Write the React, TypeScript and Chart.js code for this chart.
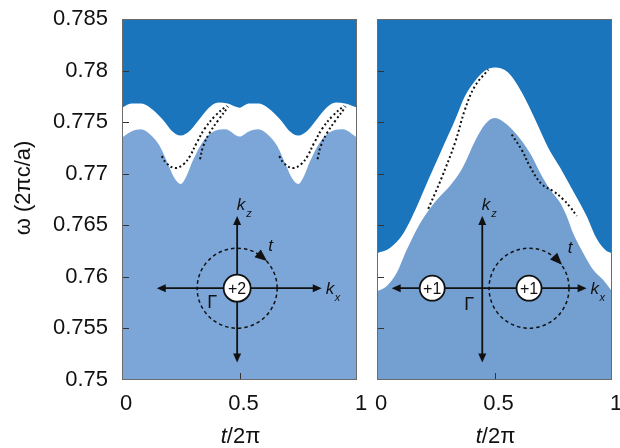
import React, { useEffect, useRef } from 'react';
import { Chart, registerables } from 'chart.js';
Chart.register(...registerables);

const FONT = "'Liberation Sans', Arial, sans-serif";
const DARK = '#1B75BC';
const LIGHT_L = '#7CA6D8';
const LIGHT_R = '#739FD1';

const X_TICKS = [0, 0.5, 1];
const Y_TICKS = [0.75, 0.755, 0.76, 0.765, 0.77, 0.775, 0.78, 0.785];

// Left panel (+2)
const L_UPPER_T = [0, 0.04, 0.08, 0.12, 0.175, 0.21, 0.25, 0.29, 0.33, 0.37, 0.41, 0.45, 0.5, 0.54, 0.58, 0.62, 0.675, 0.71, 0.75, 0.79, 0.83, 0.87, 0.91, 0.95, 1];
const L_UPPER_W = [0.7764, 0.7768, 0.7768, 0.7764, 0.7752, 0.7742, 0.7737, 0.7742, 0.7753, 0.7764, 0.7769, 0.7768, 0.7764, 0.7768, 0.7768, 0.7764, 0.7752, 0.7742, 0.7737, 0.7742, 0.7753, 0.7764, 0.7769, 0.7768, 0.7764];
const L_LOWER_T = [0, 0.04, 0.08, 0.12, 0.16, 0.2, 0.225, 0.25, 0.275, 0.3, 0.35, 0.4, 0.44, 0.5, 0.54, 0.58, 0.62, 0.66, 0.7, 0.725, 0.75, 0.775, 0.8, 0.85, 0.9, 0.94, 1];
const L_LOWER_W = [0.7735, 0.7741, 0.7743, 0.7738, 0.7727, 0.7707, 0.7695, 0.769, 0.7698, 0.7712, 0.7733, 0.7742, 0.7743, 0.7736, 0.7741, 0.7743, 0.7738, 0.7727, 0.7707, 0.7695, 0.769, 0.7698, 0.7712, 0.7733, 0.7742, 0.7743, 0.7735];
const L_DOT_A1_T = [0.169, 0.19, 0.226, 0.261, 0.289, 0.318, 0.353, 0.396, 0.446];
const L_DOT_A1_W = [0.7717, 0.771, 0.77055, 0.7709, 0.7717, 0.773, 0.7744, 0.7756, 0.7766];
const L_DOT_B1_T = [0.332, 0.346, 0.374, 0.41, 0.452];
const L_DOT_B1_W = [0.7714, 0.7727, 0.774, 0.7752, 0.7765];
const L_DOT_A2_T = [0.669, 0.69, 0.726, 0.761, 0.789, 0.818, 0.853, 0.896, 0.946];
const L_DOT_A2_W = [0.7717, 0.771, 0.77055, 0.7709, 0.7717, 0.773, 0.7744, 0.7756, 0.7766];
const L_DOT_B2_T = [0.832, 0.846, 0.874, 0.91, 0.952];
const L_DOT_B2_W = [0.7714, 0.7727, 0.774, 0.7752, 0.7765];

// Right panel (+1, +1)
const R_UPPER_T = [0, 0.055, 0.112, 0.169, 0.218, 0.275, 0.332, 0.374, 0.417, 0.46, 0.5, 0.559, 0.616, 0.672, 0.729, 0.779, 0.835, 0.892, 0.935, 0.977, 1];
const R_UPPER_W = [0.7623, 0.7628, 0.7642, 0.7668, 0.7694, 0.7723, 0.7752, 0.7775, 0.779, 0.78, 0.7803, 0.7798, 0.7779, 0.7753, 0.7725, 0.7706, 0.7683, 0.7659, 0.7637, 0.7625, 0.7623];
const R_LOWER_T = [0, 0.041, 0.084, 0.126, 0.169, 0.218, 0.26, 0.31, 0.36, 0.42, 0.46, 0.5, 0.54, 0.587, 0.651, 0.694, 0.736, 0.779, 0.807, 0.835, 0.878, 0.92, 0.963, 1];
const R_LOWER_W = [0.7586, 0.7591, 0.7604, 0.7626, 0.7646, 0.7664, 0.7676, 0.7688, 0.7704, 0.7733, 0.7748, 0.7754, 0.775, 0.774, 0.772, 0.7701, 0.7685, 0.7672, 0.7659, 0.7642, 0.7623, 0.7607, 0.7597, 0.7586];
const R_DOT_1_T = [0.218, 0.247, 0.275, 0.332, 0.374, 0.417, 0.474];
const R_DOT_1_W = [0.7666, 0.7681, 0.7696, 0.773, 0.7762, 0.7785, 0.7801];
const R_DOT_2_T = [0.573, 0.616, 0.651, 0.7, 0.75, 0.793, 0.821, 0.85];
const R_DOT_2_W = [0.7738, 0.7723, 0.7707, 0.769, 0.7683, 0.7675, 0.7668, 0.7659];

// Inset sketch (k-space diagram) anchors, in data units
const LEFT_SKETCH = {
  axisX: 0.49, axisY: 0.7589, hFrom: 0.148, hTo: 0.85, vTop: 0.7659, vBot: 0.7517,
  charges: [{ x: 0.49, label: '+2', r: 13.5 }],
  loopX: 0.49, loopR: 40, arrowDeg: -51, tDx: 31, tDy: -37, gDx: -30, gDy: 19.6,
};
const RIGHT_SKETCH = {
  axisX: 0.448, axisY: 0.7589, hFrom: 0.0625, hTo: 0.892, vTop: 0.7659, vBot: 0.7517,
  charges: [{ x: 0.235, label: '+1', r: 12.5 }, { x: 0.647, label: '+1', r: 12.5 }],
  loopX: 0.647, loopR: 40, arrowDeg: -44, tDx: 38.7, tDy: -35.4, gDx: -18, gDy: 21.3,
};

const pts = (t: number[], w: number[]) => t.map((v, i) => ({ x: v, y: w[i] }));

function fillSet(t: number[], w: number[], color: string, fill: string) {
  return {
    data: pts(t, w), borderWidth: 0, borderColor: color, backgroundColor: color,
    fill, pointRadius: 0, tension: 0.4, cubicInterpolationMode: 'monotone',
  };
}
function dotSet(t: number[], w: number[]) {
  return {
    data: pts(t, w), borderWidth: 2, borderColor: '#111', borderDash: [2, 2.6],
    fill: false, pointRadius: 0, tension: 0.4, borderCapStyle: 'butt',
  };
}

function head(ctx: CanvasRenderingContext2D, tx: number, ty: number, dx: number, dy: number, len = 9, hw = 4) {
  const bx = tx - dx * len, by = ty - dy * len;
  ctx.beginPath();
  ctx.moveTo(tx, ty);
  ctx.lineTo(bx - dy * hw, by + dx * hw);
  ctx.lineTo(bx + dy * hw, by - dx * hw);
  ctx.closePath();
  ctx.fill();
}

function drawSketch(chart: any, s: any) {
  const { ctx, scales: { x, y } } = chart;
  const ax = x.getPixelForValue(s.axisX), ay = y.getPixelForValue(s.axisY);
  const h0 = x.getPixelForValue(s.hFrom), h1 = x.getPixelForValue(s.hTo);
  const v0 = y.getPixelForValue(s.vTop), v1 = y.getPixelForValue(s.vBot);
  const lx = x.getPixelForValue(s.loopX);
  ctx.save();
  ctx.strokeStyle = '#111'; ctx.fillStyle = '#111'; ctx.lineWidth = 1.8;
  ctx.beginPath(); ctx.moveTo(h0 + 4, ay); ctx.lineTo(h1 - 4, ay); ctx.stroke();
  ctx.beginPath(); ctx.moveTo(ax, v0 + 4); ctx.lineTo(ax, v1 - 4); ctx.stroke();
  head(ctx, h0, ay, -1, 0); head(ctx, h1, ay, 1, 0);
  head(ctx, ax, v0, 0, -1); head(ctx, ax, v1, 0, 1);
  ctx.lineWidth = 1.5; ctx.setLineDash([3.5, 3]);
  ctx.beginPath(); ctx.arc(lx, ay, s.loopR, 0, Math.PI * 2); ctx.stroke();
  ctx.setLineDash([]);
  const th = s.arrowDeg * Math.PI / 180;
  const px = lx + s.loopR * Math.cos(th), py = ay + s.loopR * Math.sin(th);
  const dx = -Math.sin(th), dy = Math.cos(th);
  head(ctx, px + dx * 6, py + dy * 6, dx, dy, 12, 5);
  s.charges.forEach((c: any) => {
    const cx = x.getPixelForValue(c.x);
    ctx.beginPath(); ctx.arc(cx, ay, c.r, 0, Math.PI * 2);
    ctx.fillStyle = '#fff'; ctx.fill();
    ctx.lineWidth = 1.8; ctx.strokeStyle = '#111'; ctx.stroke();
    ctx.fillStyle = '#111'; ctx.font = `16px ${FONT}`;
    ctx.textAlign = 'center'; ctx.textBaseline = 'middle';
    ctx.fillText(c.label, cx, ay + 1);
  });
  ctx.textAlign = 'left'; ctx.textBaseline = 'alphabetic'; ctx.fillStyle = '#111';
  ctx.font = `italic 17px ${FONT}`;
  ctx.fillText('k', ax - 0.5, v0 - 6.5);
  ctx.fillText('k', h1 + 4, ay + 5.5);
  ctx.fillText('t', lx + s.tDx, ay + s.tDy);
  ctx.font = `italic 11px ${FONT}`;
  ctx.fillText('z', ax + 9, v0 + 0.5);
  ctx.fillText('x', h1 + 13, ay + 12.5);
  ctx.font = `18px ${FONT}`;
  ctx.fillText('Γ', ax + s.gDx, ay + s.gDy);
  ctx.restore();
}

function decoPlugin(sketch: any, showYTitle: boolean) {
  return {
    id: 'deco',
    afterDatasetsDraw(chart: any) {
      const { ctx, chartArea: a, scales: { x, y } } = chart;
      ctx.save();
      ctx.strokeStyle = '#333'; ctx.lineWidth = 1;
      Y_TICKS.slice(1, -1).forEach((v) => {
        const py = Math.round(y.getPixelForValue(v)) + 0.5;
        ctx.beginPath(); ctx.moveTo(a.left, py); ctx.lineTo(a.left + 7, py); ctx.stroke();
      });
      X_TICKS.slice(1, -1).forEach((v) => {
        const px = Math.round(x.getPixelForValue(v)) + 0.5;
        ctx.beginPath(); ctx.moveTo(px, a.bottom); ctx.lineTo(px, a.bottom - 7); ctx.stroke();
      });
      ctx.strokeStyle = '#6b6b6b';
      ctx.strokeRect(a.left + 0.5, a.top + 0.5, a.right - a.left - 1, a.bottom - a.top - 1);
      ctx.restore();
      drawSketch(chart, sketch);
    },
    afterDraw(chart: any) {
      const { ctx, chartArea: a } = chart;
      ctx.save();
      ctx.fillStyle = '#111';
      ctx.font = `italic 22px ${FONT}`;
      const w1 = ctx.measureText('t').width;
      ctx.font = `22px ${FONT}`;
      const w2 = ctx.measureText('/2π').width;
      const cx = (a.left + a.right) / 2 + 1;
      const sx = cx - (w1 + w2) / 2;
      ctx.textBaseline = 'alphabetic'; ctx.textAlign = 'left';
      ctx.font = `italic 22px ${FONT}`;
      ctx.fillText('t', sx, 443);
      ctx.font = `22px ${FONT}`;
      ctx.fillText('/2π', sx + w1, 443);
      if (showYTitle) {
        ctx.translate(24, 188);
        ctx.rotate(-Math.PI / 2);
        ctx.textAlign = 'center'; ctx.textBaseline = 'middle';
        ctx.fillText('ω (2πc/a)', 0, 0);
      }
      ctx.restore();
    },
  };
}

const noPad = (s: any) => { s.paddingLeft = 0; s.paddingRight = 0; s.paddingTop = 0; s.paddingBottom = 0; };

function makeConfig(left: boolean) {
  const datasets = left
    ? [
        dotSet(L_DOT_A1_T, L_DOT_A1_W), dotSet(L_DOT_B1_T, L_DOT_B1_W),
        dotSet(L_DOT_A2_T, L_DOT_A2_W), dotSet(L_DOT_B2_T, L_DOT_B2_W),
        fillSet(L_UPPER_T, L_UPPER_W, DARK, 'end'),
        fillSet(L_LOWER_T, L_LOWER_W, LIGHT_L, 'start'),
      ]
    : [
        dotSet(R_DOT_1_T, R_DOT_1_W), dotSet(R_DOT_2_T, R_DOT_2_W),
        fillSet(R_UPPER_T, R_UPPER_W, DARK, 'end'),
        fillSet(R_LOWER_T, R_LOWER_W, LIGHT_R, 'start'),
      ];
  const tickFont = { family: FONT, size: 22 };
  return {
    type: 'line',
    data: { datasets },
    options: {
      responsive: false, animation: false, devicePixelRatio: 1,
      layout: { padding: left ? { top: 19, right: 10, left: 0, bottom: 0 } : { top: 19, right: 8, left: 10, bottom: 0 } },
      plugins: { legend: { display: false }, tooltip: { enabled: false } },
      scales: {
        x: {
          type: 'linear', min: 0, max: 1,
          afterBuildTicks: (s: any) => { s.ticks = X_TICKS.map((v) => ({ value: v })); },
          afterFit: (s: any) => { s.height = 68; noPad(s); },
          grid: { display: false, drawTicks: false }, border: { display: false },
          ticks: { font: tickFont, color: '#111', padding: 11, maxRotation: 0, autoSkip: false, labelOffset: 4, callback: (v: any) => String(v) },
        },
        y: {
          type: 'linear', min: 0.75, max: 0.785, display: left,
          afterBuildTicks: (s: any) => { s.ticks = Y_TICKS.map((v) => ({ value: v })); },
          afterFit: (s: any) => { s.width = left ? 122 : 0; noPad(s); },
          grid: { display: false, drawTicks: false }, border: { display: false },
          ticks: { font: tickFont, color: '#111', padding: 14, autoSkip: false, callback: (v: any) => String(v) },
        },
      },
    },
    plugins: [decoPlugin(left ? LEFT_SKETCH : RIGHT_SKETCH, left)],
  };
}

export default function App() {
  const leftRef = useRef<HTMLCanvasElement>(null);
  const rightRef = useRef<HTMLCanvasElement>(null);
  useEffect(() => {
    const c1 = new Chart(leftRef.current as HTMLCanvasElement, makeConfig(true) as any);
    const c2 = new Chart(rightRef.current as HTMLCanvasElement, makeConfig(false) as any);
    return () => { c1.destroy(); c2.destroy(); };
  }, []);
  return (
    <div style={{ position: 'absolute', left: 0, top: 0, width: 620, height: 448, background: '#fff' }}>
      <canvas ref={leftRef} width={367} height={448} style={{ position: 'absolute', left: 0, top: 0, width: 367, height: 448 }} />
      <canvas ref={rightRef} width={253} height={448} style={{ position: 'absolute', left: 367, top: 0, width: 253, height: 448 }} />
    </div>
  );
}
